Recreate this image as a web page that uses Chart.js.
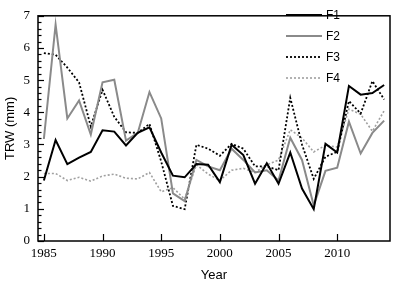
<!DOCTYPE html>
<html>
<head>
<meta charset="utf-8">
<script src="https://cdn.jsdelivr.net/npm/chart.js@4"></script>
<style>
  html, body { margin: 0; padding: 0; background: #fff; }
  #wrap { width: 395px; height: 283px; }
</style>
</head>
<body>
<div id="wrap"><canvas id="trwChart"></canvas></div>
<script>
// Years and tree-ring width series (mm)
const years = [1985, 1986, 1987, 1988, 1989, 1990, 1991, 1992, 1993, 1994,
               1995, 1996, 1997, 1998, 1999, 2000, 2001, 2002, 2003, 2004,
               2005, 2006, 2007, 2008, 2009, 2010, 2011, 2012, 2013, 2014];

const f1 = [1.88, 3.14, 2.39, 2.59, 2.77, 3.44, 3.40, 2.97, 3.36, 3.53,
            2.75, 2.03, 1.98, 2.39, 2.37, 1.83, 2.99, 2.67, 1.78, 2.42,
            1.78, 2.75, 1.63, 0.99, 3.02, 2.75, 4.82, 4.55, 4.60, 4.85];

const f2 = [3.17, 6.73, 3.81, 4.37, 3.31, 4.93, 5.01, 3.12, 3.36, 4.63,
            3.81, 1.48, 1.24, 2.52, 2.32, 2.20, 2.87, 2.52, 2.13, 2.20,
            1.88, 3.21, 2.52, 1.10, 2.18, 2.28, 3.71, 2.72, 3.36, 3.74];

const f3 = [5.84, 5.79, 5.39, 4.93, 3.56, 4.70, 3.86, 3.38, 3.36, 3.64,
            2.47, 1.09, 0.99, 2.99, 2.87, 2.65, 3.02, 2.87, 2.32, 2.32,
            2.20, 4.45, 3.00, 1.93, 2.62, 2.77, 4.35, 3.96, 4.97, 4.40];

const f4 = [2.10, 2.10, 1.88, 1.98, 1.86, 2.02, 2.08, 1.95, 1.93, 2.13,
            1.53, 1.66, 1.30, 2.37, 2.08, 1.88, 2.20, 2.26, 2.13, 2.37,
            2.52, 3.46, 3.20, 2.77, 2.97, 2.92, 4.10, 3.94, 3.41, 4.05];

const xTickYears = [1985, 1990, 1995, 2000, 2005, 2010];

const toPoints = vals => vals.map((v, i) => ({ x: years[i], y: v }));

// draws the frame, inward ticks and the in-plot legend
const framePlugin = {
  id: 'frame',
  afterDatasetsDraw(chart) {
    const { ctx, chartArea: a, scales } = chart;
    ctx.save();
    ctx.strokeStyle = '#000';
    ctx.lineWidth = 1.2;
    // y ticks (major at integers, minor every 0.2)
    for (let k = 0; k <= 35; k++) {
      const y = Math.round(scales.y.getPixelForValue(k / 5)) + 0.5;
      const len = k % 5 === 0 ? 6 : 3.5;
      ctx.beginPath();
      ctx.moveTo(a.left, y);
      ctx.lineTo(a.left + len, y);
      ctx.stroke();
    }
    // x ticks
    xTickYears.forEach(yr => {
      const x = Math.round(scales.x.getPixelForValue(yr)) + 0.5;
      ctx.beginPath();
      ctx.moveTo(x, a.bottom);
      ctx.lineTo(x, a.bottom - 7);
      ctx.stroke();
    });
    ctx.lineWidth = 1.5;
    ctx.strokeRect(a.left, a.top, a.right - a.left, a.bottom - a.top);
    ctx.restore();
  },
  afterDraw(chart) {
    const { ctx } = chart;
    ctx.save();
    ctx.font = '12px "Liberation Sans", Arial, sans-serif';
    ctx.textBaseline = 'middle';
    chart.data.datasets.forEach((ds, i) => {
      const y = 15 + i * 21;
      ctx.strokeStyle = ds.borderColor;
      ctx.lineWidth = ds.borderWidth;
      ctx.setLineDash(ds.borderDash || []);
      ctx.beginPath();
      ctx.moveTo(286, y);
      ctx.lineTo(322, y);
      ctx.stroke();
      ctx.setLineDash([]);
      ctx.fillStyle = '#000';
      ctx.fillText(ds.label, 326, y + 0.5);
    });
    ctx.restore();
  }
};

const ctx = document.getElementById('trwChart').getContext('2d');
new Chart(ctx, {
  type: 'line',
  data: {
    datasets: [
      { label: 'F1', data: toPoints(f1), borderColor: '#000000', borderWidth: 2 },
      { label: 'F2', data: toPoints(f2), borderColor: '#8a8a8a', borderWidth: 2 },
      { label: 'F3', data: toPoints(f3), borderColor: '#000000', borderWidth: 1.8, borderDash: [2, 2] },
      { label: 'F4', data: toPoints(f4), borderColor: '#a0a0a0', borderWidth: 1.6, borderDash: [2, 2] }
    ]
  },
  options: {
    responsive: true,
    maintainAspectRatio: false,
    animation: false,
    devicePixelRatio: 1,
    layout: { padding: { top: 5, right: 5, left: 0, bottom: 0 } },
    elements: { point: { radius: 0 }, line: { tension: 0, fill: false } },
    plugins: { legend: { display: false }, tooltip: { enabled: false } },
    scales: {
      x: {
        type: 'linear',
        min: 1984.5,
        max: 2014.5,
        afterFit(scale) { scale.height = 42; },
        afterBuildTicks(scale) { scale.ticks = xTickYears.map(v => ({ value: v })); },
        grid: { display: false, drawTicks: false },
        border: { display: false },
        ticks: {
          padding: 5,
          color: '#000',
          maxRotation: 0,
          autoSkip: false,
          font: { family: '"Liberation Serif", "Times New Roman", serif', size: 13 },
          callback: v => String(v)
        },
        title: {
          display: true,
          text: 'Year',
          color: '#000',
          padding: { top: 0, bottom: 0 },
          font: { family: '"Liberation Sans", Arial, sans-serif', size: 13 }
        }
      },
      y: {
        min: 0,
        max: 7,
        afterFit(scale) { scale.width = 38; },
        grid: { display: false, drawTicks: false },
        border: { display: false },
        ticks: {
          stepSize: 1,
          padding: 8,
          color: '#000',
          font: { family: '"Liberation Serif", "Times New Roman", serif', size: 13 }
        },
        title: {
          display: true,
          text: 'TRW (mm)',
          color: '#000',
          padding: { top: 3, bottom: 3 },
          font: { family: '"Liberation Sans", Arial, sans-serif', size: 13 }
        }
      }
    }
  },
  plugins: [framePlugin]
});
</script>
</body>
</html>
